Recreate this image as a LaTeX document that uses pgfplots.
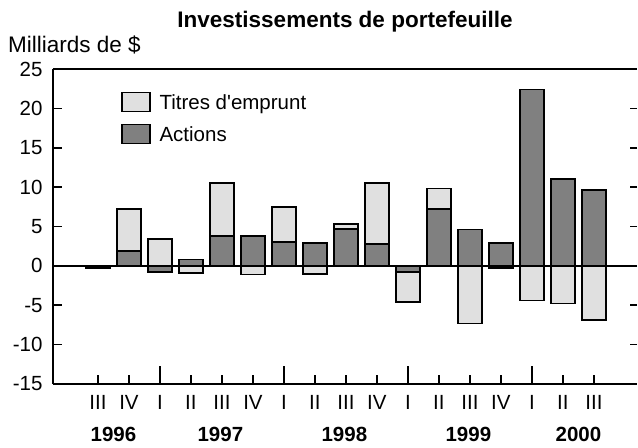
\documentclass[border=0pt]{standalone}
\usepackage{fontspec}
\setmainfont{Liberation Sans}
\usepackage{pgfplots}
\usepackage{pgfplotstable}
\pgfplotsset{compat=1.18}

\definecolor{titres}{HTML}{E0E0E0}
\definecolor{actions}{HTML}{808080}

% q = quarter index (0 = 1996 III), A = actions, T = titres d'emprunt
\pgfplotstableread{
q  A     T
0  -0.3  0
1  1.9   5.3
2  -0.8  3.4
3  0.8   -0.9
4  3.8   6.7
5  3.8   -1.1
6  3.0   4.5
7  2.9   -1.0
8  4.7   0.6
9  2.8   7.7
10 -0.8  -3.8
11 7.2   2.6
12 4.6   -7.3
13 2.9   -0.3
14 22.4  -4.4
15 11.0  -4.8
16 9.6   -6.9
}\portefeuille

\pgfplotsset{
  legbox/.style={legend image code/.code={
    \draw[##1, line width=1.6bp] (0bp,-9bp) rectangle (28bp,10bp);}},
}
\tikzset{yearlbl/.style={font=\fontsize{20.5bp}{24bp}\selectfont\bfseries, yshift=-50bp}}

\begin{document}
\begin{tikzpicture}[font=\fontsize{20.5bp}{24bp}\selectfont]
\useasboundingbox (-53bp,-64bp) rectangle (585bp,384bp);
\begin{axis}[
  scale only axis, width=584bp, height=315bp,
  xmin=-1.45, xmax=17.39, ymin=-15, ymax=25,
  clip=false,
  axis x line*=box, axis y line*=left,
  every outer x axis line/.append style={-},
  every outer y axis line/.append style={-},
  x axis line style={line width=1.6bp},
  y axis line style={line width=1.6bp},
  tick align=inside,
  major tick length=9bp,
  tick style={line width=1.6bp, black},
  xtick pos=bottom, ytick pos=left,
  xtick={0,...,16},
  xticklabels={III,IV,I,II,III,IV,I,II,III,IV,I,II,III,IV,I,II,III},
  extra x ticks={2,6,10,14},
  extra x tick labels={},
  extra x tick style={major tick length=18bp},
  xticklabel style={yshift=-8bp},
  ytick={-15,-10,...,25},
  yticklabel style={xshift=-7bp},
  /pgf/number format/assume math mode=true,
  legend style={at={(0.116,0.928)}, anchor=north west, draw=none, fill=none,
    inner sep=0pt, row sep=11bp, font=\fontsize{20.5bp}{24bp}\selectfont,
    /tikz/every odd column/.append style={column sep=7bp}},
  legend cell align=left,
]
\addplot[ybar, bar shift=0pt, bar width=24bp, fill=titres, draw=black,
  line width=1.6bp, legbox]
  table[x=q, y expr={\thisrow{A}*\thisrow{T} > 0 ? \thisrow{A}+\thisrow{T} : \thisrow{T}}]
  {\portefeuille};
\addlegendentry{Titres d\textquotesingle emprunt}
\addplot[ybar, bar shift=0pt, bar width=24bp, fill=actions, draw=black,
  line width=1.6bp, legbox]
  table[x=q, y=A] {\portefeuille};
\addlegendentry{Actions}
\draw[line width=1.6bp] (axis cs:-1.45,0) -- (axis cs:17.39,0);
\node[yearlbl] at (axis cs:0.5,-15) {1996};
\node[yearlbl] at (axis cs:3.95,-15) {1997};
\node[yearlbl] at (axis cs:7.95,-15) {1998};
\node[yearlbl] at (axis cs:11.95,-15) {1999};
\node[yearlbl] at (axis cs:15.5,-15) {2000};
\end{axis}
% right-hand ticks, no line
\begin{axis}[
  scale only axis, width=584bp, height=315bp,
  xmin=-1.45, xmax=17.39, ymin=-15, ymax=25,
  axis x line=none, axis y line*=right,
  y axis line style={draw=none},
  tick align=inside, major tick length=7bp,
  tick style={line width=1.6bp, black},
  ytick={-10,-5,...,20}, yticklabels={},
]
\addplot[draw=none] coordinates {(0,0)};
\end{axis}
\node[anchor=center, font=\fontsize{22.5bp}{26bp}\selectfont\bfseries] at (292bp,362bp) {Investissements de portefeuille};
\node[anchor=west, inner sep=0pt, font=\fontsize{22.5bp}{26bp}\selectfont] at (-45bp,339bp) {Milliards de \$};
\end{tikzpicture}
\end{document}
